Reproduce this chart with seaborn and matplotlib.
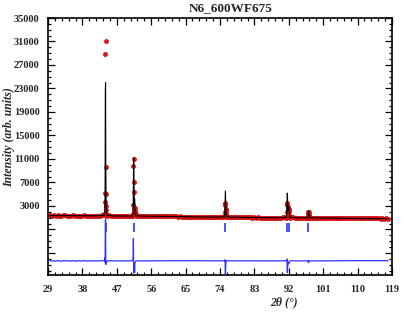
import numpy as np
import pandas as pd
import matplotlib
matplotlib.use("Agg")
import matplotlib.pyplot as plt
import seaborn as sns
from matplotlib.ticker import AutoMinorLocator, FixedLocator

title = "N6_600WF675"
x_label = "2θ (°)"
y_label = "Intensity (arb. units)"
x_ticks = [29, 38, 47, 56, 65, 74, 83, 92, 101, 110, 119]
y_ticks = [-5000, -1000, 3000, 7000, 11000, 15000, 19000, 23000, 27000, 31000, 35000]
y_tick_labels = ["", "", "3000", "7000", "11000", "15000", "19000", "23000", "27000", "31000", "35000"]

# background scan (step 0.5 deg from 29.5 to 118.0)
bg_two_theta = np.round(np.arange(29.5, 118.01, 0.5), 2)
bg_obs = [
    1395, 1320, 1380, 1305, 1415, 1345, 1290, 1385, 1400, 1315,
    1365, 1300, 1385, 1330, 1275, 1370, 1345, 1295, 1380, 1310,
    1290, 1355, 1300, 1345, 1285, 1340, 1365, 1405, 1480, 1510,
    1495, 1425, 1360, 1290, 1325, 1270, 1310, 1305, 1260, 1300,
    1295, 1255, 1330, 1345, 1400, 1370, 1335, 1300, 1265, 1290,
    1290, 1255, 1285, 1235, 1275, 1260, 1225, 1265, 1250, 1215,
    1250, 1235, 1240, 1220, 1235, 1210, 1225, 1200, 1215, 1190,
    1200, 1185, 1195, 1170, 1190, 1160, 1175, 1150, 1160, 1140,
    1150, 1115, 1140, 1105, 1130, 1090, 1120, 1085, 1110, 1120,
    1160, 1225, 1200, 1185, 1130, 1105, 1090, 1100, 1070, 1090,
    1060, 1085, 1050, 1070, 1045, 1060, 1030, 1055, 1020, 1040,
    1010, 1035, 1000, 1020, 995, 1010, 985, 1005, 990, 1000,
    995, 1020, 1050, 1100, 1150, 1170, 1125, 1060, 1020, 1000,
    990, 975, 995, 980, 990, 1000, 1000, 1005, 990, 970,
    975, 950, 965, 945, 955, 940, 950, 930, 945, 925,
    940, 920, 935, 915, 930, 910, 925, 905, 920, 900,
    915, 895, 910, 890, 905, 885, 900, 880, 895, 875,
    890, 870, 885, 865, 880, 860, 875, 860,
]
bg_calc = [
    1360, 1358, 1356, 1354, 1352, 1350, 1348, 1346, 1344, 1342,
    1340, 1338, 1336, 1334, 1332, 1330, 1328, 1326, 1324, 1322,
    1320, 1318, 1316, 1316, 1318, 1325, 1340, 1380, 1450, 1500,
    1480, 1400, 1340, 1310, 1300, 1295, 1290, 1288, 1285, 1282,
    1280, 1285, 1300, 1330, 1380, 1350, 1310, 1290, 1280, 1275,
    1270, 1265, 1260, 1255, 1250, 1245, 1240, 1235, 1230, 1225,
    1220, 1215, 1210, 1205, 1200, 1195, 1190, 1185, 1180, 1175,
    1170, 1165, 1160, 1155, 1150, 1145, 1140, 1135, 1130, 1125,
    1120, 1115, 1110, 1105, 1100, 1095, 1090, 1090, 1095, 1110,
    1140, 1200, 1200, 1160, 1120, 1095, 1085, 1080, 1075, 1070,
    1065, 1060, 1055, 1050, 1045, 1040, 1035, 1030, 1025, 1020,
    1015, 1010, 1005, 1000, 998, 996, 994, 992, 990, 990,
    992, 1000, 1030, 1080, 1150, 1150, 1100, 1040, 1010, 995,
    985, 980, 978, 976, 980, 990, 990, 990, 975, 965,
    960, 955, 950, 945, 940, 935, 930, 925, 920, 915,
    910, 905, 900, 895, 890, 885, 880, 875, 870, 865,
    860, 858, 856, 854, 852, 850, 848, 846, 844, 842,
    840, 838, 836, 834, 832, 830, 828, 826,
]

# peak regions
p1_tth = [43.70, 43.80, 43.88, 43.94, 44.00, 44.06, 44.12, 44.18, 44.24, 44.30, 44.40, 44.50]
p1_obs = [1400, 1750, 3730, 5260, 28820, 31140, 9700, 5000, 3000, 2320, 1500, 1350]
p1_calc = [1380, 1700, 3200, 5500, 22500, 24000, 10300, 5300, 3300, 2400, 1600, 1380]

p2_tth = [51.10, 51.20, 51.28, 51.34, 51.40, 51.46, 51.52, 51.58, 51.66, 51.74, 51.82, 51.90, 52.00, 52.10]
p2_obs = [1310, 1600, 3100, 9800, 10950, 7140, 5330, 2500, 2200, 2600, 1800, 1550, 1380, 1290]
p2_calc = [1300, 1500, 2600, 6000, 11200, 9200, 5800, 3000, 4200, 3000, 2000, 1600, 1400, 1300]

p3_tth = [75.10, 75.20, 75.28, 75.34, 75.40, 75.46, 75.52, 75.60, 75.70, 75.80]
p3_obs = [1100, 1300, 2000, 3560, 3250, 2440, 2200, 1600, 1300, 1100]
p3_calc = [1100, 1250, 1800, 3600, 5550, 4200, 2600, 1700, 1300, 1100]

p4_tth = [91.30, 91.40, 91.48, 91.54, 91.60, 91.66, 91.72, 91.80, 91.90, 91.98, 92.06, 92.14, 92.24, 92.34]
p4_obs = [1000, 1200, 2000, 3450, 3200, 2900, 2150, 2000, 2300, 2500, 2100, 1500, 1150, 1000]
p4_calc = [1000, 1150, 1700, 3200, 5200, 4600, 3000, 2200, 2600, 3000, 2400, 1600, 1200, 1000]

p5_tth = [96.90, 97.00, 97.08, 97.14, 97.20, 97.28, 97.36, 97.46, 97.56]
p5_obs = [990, 1120, 1600, 1900, 1900, 1500, 1250, 1100, 980]
p5_calc = [980, 1100, 1500, 2200, 2000, 1600, 1300, 1100, 980]

bragg_positions = [44.1, 51.4, 75.4, 91.6, 92.05, 97.1]
diff_offset = -6350
bragg_low, bragg_high = -1400, 100

# assemble
peaks = [(p1_tth, p1_obs, p1_calc), (p2_tth, p2_obs, p2_calc), (p3_tth, p3_obs, p3_calc),
         (p4_tth, p4_obs, p4_calc), (p5_tth, p5_obs, p5_calc)]
bg = pd.DataFrame({"tth": bg_two_theta, "obs": bg_obs, "calc": bg_calc})
mask = np.ones(len(bg), dtype=bool)
frames = []
for t, o, c in peaks:
    mask &= ~((bg["tth"] >= min(t)) & (bg["tth"] <= max(t)))
    frames.append(pd.DataFrame({"tth": t, "obs": o, "calc": c}))
df = pd.concat([bg[mask]] + frames).sort_values("tth").reset_index(drop=True)
df["diff"] = df["obs"] - df["calc"] + diff_offset

sns.set_style("ticks")
plt.rcParams["font.family"] = ["Liberation Serif", "DejaVu Serif"]

fig = plt.figure(figsize=(4.04, 3.14), dpi=100)
ax = fig.add_axes([48 / 404, 1 - 275 / 314, 344 / 404, 257 / 314])

sns.scatterplot(data=df, x="tth", y="obs", color="#e41010", s=10, edgecolor="#c00000",
                linewidth=0.3, ax=ax, zorder=2, legend=False)
sns.lineplot(data=df, x="tth", y="calc", color="black", lw=0.8, sort=False,
             estimator=None, ax=ax, zorder=3, legend=False)
sns.lineplot(data=df, x="tth", y="diff", color="#3030ff", lw=0.9, sort=False,
             estimator=None, ax=ax, zorder=3, legend=False)
ax.vlines(bragg_positions, bragg_low, bragg_high, color="#3030ff", lw=1.2, zorder=3)

ax.set_xlim(29, 119)
ax.set_ylim(-8750, 35000)
ax.xaxis.set_major_locator(FixedLocator(x_ticks))
ax.set_xticklabels([str(v) for v in x_ticks])
ax.yaxis.set_major_locator(FixedLocator(y_ticks))
ax.set_yticklabels(y_tick_labels)
ax.xaxis.set_minor_locator(AutoMinorLocator(5))
ax.yaxis.set_minor_locator(AutoMinorLocator(4))
ax.tick_params(which="both", direction="in", top=True, right=True, width=0.9, color="black")
ax.tick_params(which="major", length=5, labelsize=7.5, pad=6)
ax.tick_params(which="minor", length=2.5)
ax.tick_params(axis="x", pad=7)
for lab in ax.get_xticklabels() + ax.get_yticklabels():
    lab.set_fontweight("bold")
for sp in ax.spines.values():
    sp.set_linewidth(1.2)
    sp.set_color("black")
ax.set_xlabel("")
ax.set_ylabel("")

fig.text(231 / 404, 1 - 8 / 314, title, ha="center", va="center", fontsize=9.5, fontweight="bold")
fig.text(284 / 404, 1 - 302 / 314, x_label, ha="center", va="center", fontsize=8.5,
         fontweight="bold", fontstyle="italic")
fig.text(9 / 404, 1 - 137 / 314, y_label, ha="center", va="center", rotation=90,
         fontsize=8.5, fontweight="bold", fontstyle="italic")

fig.savefig("out.png", dpi=100)
